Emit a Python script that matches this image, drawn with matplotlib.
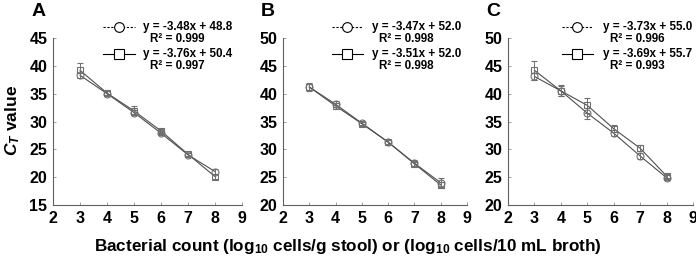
import numpy as np
import matplotlib
matplotlib.use("Agg")
import matplotlib.pyplot as plt

plt.rcParams["font.family"] = ["Liberation Sans", "DejaVu Sans"]
plt.rcParams["font.weight"] = "bold"
plt.rcParams["mathtext.fontset"] = "custom"
plt.rcParams["mathtext.rm"] = "Liberation Sans:bold"
plt.rcParams["mathtext.bf"] = "Liberation Sans:bold"
plt.rcParams["mathtext.it"] = "Liberation Sans:bold:italic"
plt.rcParams["mathtext.default"] = "bf"

# -----------------------------
# Data
# -----------------------------
x = [3, 4, 5, 6, 7, 8]

a_circle = [38.3, 35.0, 31.6, 27.9, 24.0, 21.0]
a_circle_err = [0.5, 0.4, 0.5, 0.4, 0.3, 0.4]
a_square = [39.2, 35.1, 31.9, 28.3, 24.1, 20.1]
a_square_err = [1.4, 0.4, 0.8, 0.4, 0.3, 0.4]

b_circle = [41.2, 38.1, 34.7, 31.3, 27.5, 24.0]
b_circle_err = [0.7, 0.5, 0.4, 0.3, 0.5, 0.8]
b_square = [41.2, 37.8, 34.6, 31.3, 27.4, 23.6]
b_square_err = [0.5, 0.5, 0.4, 0.3, 0.4, 0.6]

c_circle = [43.1, 40.5, 36.5, 32.9, 28.8, 24.9]
c_circle_err = [0.6, 1.0, 1.0, 0.5, 0.5, 0.4]
c_square = [44.2, 40.5, 37.9, 33.7, 30.2, 25.2]
c_square_err = [1.7, 0.9, 1.3, 0.6, 0.5, 0.4]

panel_letters = ["A", "B", "C"]
eq_circle = ["y = -3.48x + 48.8", "y = -3.47x + 52.0", "y = -3.73x + 55.0"]
r2_circle = ["R² = 0.999", "R² = 0.998", "R² = 0.996"]
eq_square = ["y = -3.76x + 50.4", "y = -3.51x + 52.0", "y = -3.69x + 55.7"]
r2_square = ["R² = 0.997", "R² = 0.998", "R² = 0.993"]
y_limits = [(15, 45), (20, 50), (20, 50)]

circles = [(a_circle, a_circle_err), (b_circle, b_circle_err), (c_circle, c_circle_err)]
squares = [(a_square, a_square_err), (b_square, b_square_err), (c_square, c_square_err)]

# -----------------------------
# Figure
# -----------------------------
fig = plt.figure(figsize=(6.96, 2.64), dpi=100)
positions = [
    [0.0762, 0.2235, 0.2716, 0.6325],
    [0.4066, 0.2235, 0.2644, 0.6325],
    [0.7299, 0.2235, 0.2658, 0.6325],
]
# legend handle start/end, text start (axes fraction)
handle_x = [(0.265, 0.434), (0.266, 0.435), (0.292, 0.459)]
text_x = [0.476, 0.484, 0.514]
letter_x = [39, 268, 493]

mark_col = "#707070"
line_col = "#505050"
leg_size = 8.4

for i in range(3):
    ax = fig.add_axes(positions[i])
    cy, ce = circles[i]
    sy, se = squares[i]

    ax.plot(x, cy, color=line_col, lw=0.8, zorder=2)
    ax.plot(x, sy, color=line_col, lw=0.8, zorder=2)
    ax.errorbar(x, cy, yerr=ce, fmt="o", ms=5, mfc="none", mec=mark_col,
                mew=0.8, ecolor=mark_col, elinewidth=0.7, capsize=2, capthick=0.7, zorder=3)
    ax.errorbar(x, sy, yerr=se, fmt="s", ms=5, mfc="none", mec=mark_col,
                mew=0.8, ecolor=mark_col, elinewidth=0.7, capsize=2, capthick=0.7, zorder=3)

    ax.set_xlim(2, 9)
    ax.set_ylim(*y_limits[i])
    ax.set_xticks(range(2, 10))
    ax.set_yticks(range(y_limits[i][0], y_limits[i][1] + 1, 5))
    ax.spines["top"].set_visible(False)
    ax.spines["right"].set_visible(False)
    for s in ["left", "bottom"]:
        ax.spines[s].set_color("#606060")
        ax.spines[s].set_linewidth(0.8)
    ax.tick_params(direction="in", length=2.5, width=0.6, color="#909090",
                   labelsize=11.5, pad=4)
    for lab in ax.get_xticklabels() + ax.get_yticklabels():
        lab.set_fontweight("heavy")

    # legend drawn by hand
    h0, h1 = handle_x[i]
    hm = (h0 + h1) / 2
    tx = text_x[i]
    ax.plot([h0, h1], [1.066, 1.066], transform=ax.transAxes,
            color="black", lw=0.8, ls=(0, (2, 1.5)), clip_on=False)
    ax.plot([hm], [1.066], transform=ax.transAxes, marker="o", ms=7,
            mfc="white", mec="black", mew=0.8, clip_on=False)
    ax.plot([h0, h1], [0.904, 0.904], transform=ax.transAxes,
            color="black", lw=0.8, clip_on=False)
    ax.plot([hm], [0.904], transform=ax.transAxes, marker="s", ms=7,
            mfc="white", mec="black", mew=0.8, clip_on=False)
    ax.text(tx, 1.066, eq_circle[i], transform=ax.transAxes,
            fontsize=leg_size, fontweight="heavy", va="center")
    ax.text(tx + 0.037, 0.994, r2_circle[i], transform=ax.transAxes,
            fontsize=leg_size, fontweight="heavy", va="center")
    ax.text(tx, 0.904, eq_square[i], transform=ax.transAxes,
            fontsize=leg_size, fontweight="heavy", va="center")
    ax.text(tx + 0.037, 0.832, r2_square[i], transform=ax.transAxes,
            fontsize=leg_size, fontweight="heavy", va="center")

    fig.text(letter_x[i] / 696, 1 - 12 / 264, panel_letters[i], fontsize=14,
             fontweight="heavy", ha="center", va="center")

fig.text(13 / 696, 1 - 120 / 264, r"$\mathit{C_T}$ value", fontsize=12.5, fontweight="heavy",
         rotation=90, ha="center", va="center")
fig.text(348 / 696, 1 - 247 / 264,
         r"Bacterial count (log$_{10}$ cells/g stool) or (log$_{10}$ cells/10 mL broth)",
         fontsize=12.3, fontweight="heavy", ha="center", va="center")

fig.savefig("out.png", dpi=100)
